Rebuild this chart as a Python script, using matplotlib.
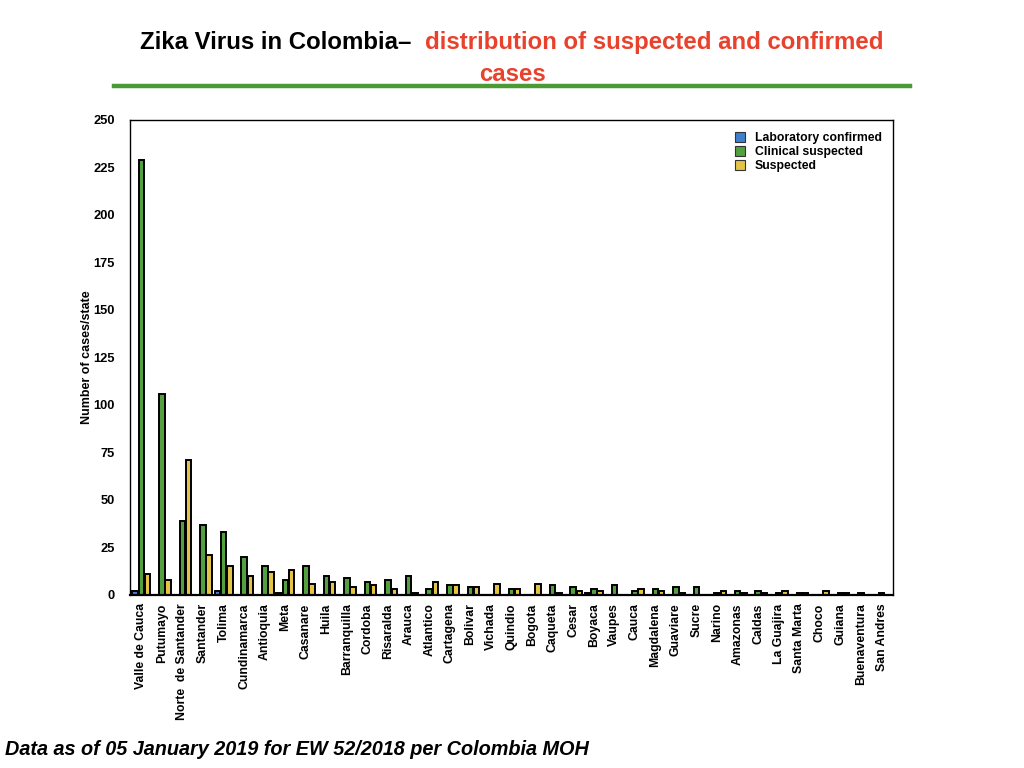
import numpy as np
import matplotlib.pyplot as plt
from matplotlib.lines import Line2D

plt.rcParams['font.family'] = ['Liberation Sans', 'DejaVu Sans']

### Data

states = ['Valle de Cauca', 'Putumayo', 'Norte  de Santander', 'Santander', 'Tolima',
          'Cundinamarca', 'Antioquia', 'Meta', 'Casanare', 'Huila', 'Barranquilla',
          'Cordoba', 'Risaralda', 'Arauca', 'Atlantico', 'Cartagena', 'Bolivar',
          'Vichada', 'Quindio', 'Bogota', 'Caqueta', 'Cesar', 'Boyaca', 'Vaupes',
          'Cauca', 'Magdalena', 'Guaviare', 'Sucre', 'Narino', 'Amazonas', 'Caldas',
          'La Guajira', 'Santa Marta', 'Choco', 'Guiana', 'Buenaventura', 'San Andres']

lab_confirmed = [2, 0, 0, 0, 2, 0, 0, 1, 0, 0, 0, 0, 0, 0, 0, 0, 0, 0, 0, 0, 0,
                 0, 1, 0, 0, 0, 0, 0, 0, 0, 0, 0, 0, 0, 0, 0, 0]
clinical_suspected = [229, 106, 39, 37, 33, 20, 15, 8, 15, 10, 9, 7, 8, 10, 3, 5, 4,
                      0, 3, 0, 5, 4, 3, 5, 2, 3, 4, 4, 1, 2, 2, 1, 1, 0, 1, 1, 1]
suspected = [11, 8, 71, 21, 15, 10, 12, 13, 6, 7, 4, 5, 3, 1, 7, 5, 4, 6, 3, 6, 1,
             2, 2, 0, 3, 2, 1, 0, 2, 1, 1, 2, 1, 2, 1, 0, 0]

series_names = ['Laboratory confirmed', 'Clinical suspected', 'Suspected']
series_colors = ['#3f7fd0', '#52a03f', '#e3c444']

### Plot

fig = plt.figure(figsize=(10.24, 7.68), dpi=100)
ax = fig.add_axes([0.127, 0.2253, 0.745, 0.6185])

x = np.arange(len(states))
width = 0.27
offsets = [-0.3, 0.0, 0.3]
for values, offset, color, name in zip([lab_confirmed, clinical_suspected, suspected],
                                       offsets, series_colors, series_names):
   values = np.array(values, dtype=float)
   # zero-valued bars are not drawn in the original
   mask = values > 0
   ax.bar(x[mask] + offset, values[mask], width=width, color=color,
          edgecolor='black', linewidth=1.4, label=name, zorder=2)

ax.set_xlim(-0.55, len(states) - 0.45)
ax.set_ylim(0, 250)
ax.set_yticks(np.arange(0, 251, 25))
ax.set_yticklabels([str(v) for v in range(0, 251, 25)], fontsize=9.3, fontweight='bold')
ax.set_xticks(x)
ax.set_xticklabels(states, rotation=90, fontsize=8.8, fontweight='bold')
ax.tick_params(axis='both', length=0, pad=11)
ax.tick_params(axis='x', pad=6)
for side in ['left', 'right', 'top', 'bottom']:
   ax.spines[side].set_linewidth(1.0)
ax.spines['bottom'].set_linewidth(1.6)
ax.set_ylabel('Number of cases/state', fontsize=9, fontweight='bold', labelpad=0)

handles = [Line2D([0], [0], marker='s', linestyle='none', markersize=7,
                  markerfacecolor=c, markeredgecolor='#333333', markeredgewidth=0.8)
           for c in series_colors]
ax.legend(handles, series_names, loc='upper right', bbox_to_anchor=(1.0, 0.997),
          frameon=False, prop={'weight': 'bold', 'size': 8.8},
          handletextpad=0.7, labelspacing=0.15, handlelength=1.0)

# title in two colours
fig.text(0.402, 0.945, 'Zika Virus in Colombia\u2013', fontsize=17.3, fontweight='bold',
         color='black', ha='right', va='center')
fig.text(0.415, 0.945, 'distribution of suspected and confirmed', fontsize=17.3,
         fontweight='bold', color='#e8412c', ha='left', va='center')
fig.text(0.5, 0.903, 'cases', fontsize=17.3, fontweight='bold', color='#e8412c',
         ha='center', va='center')

fig.add_artist(Line2D([0.111, 0.889], [0.888, 0.888], color='#4a9a36', linewidth=3.2))

fig.text(0.005, 0.024, 'Data as of 05 January 2019 for EW 52/2018 per Colombia MOH',
         fontsize=14.3, fontweight='bold', fontstyle='italic', ha='left', va='center')

fig.savefig('out.png', dpi=100)
